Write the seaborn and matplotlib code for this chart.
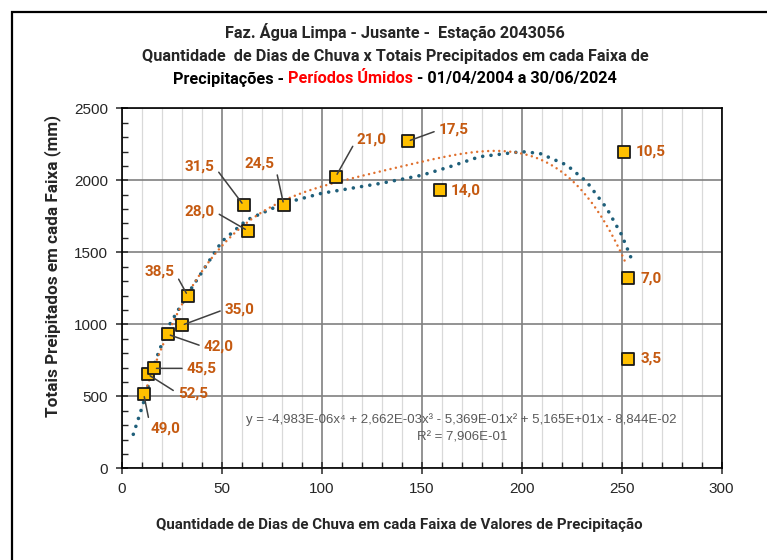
import numpy as np
import pandas as pd
import matplotlib
matplotlib.use("Agg")
import matplotlib.pyplot as plt
import seaborn as sns
from matplotlib.ticker import MultipleLocator
from matplotlib.patches import Rectangle

# Dados (dias de chuva x totais precipitados por faixa)
dias = [11, 13, 16, 23, 30, 33, 61, 63, 81, 107, 143, 159, 251, 253, 253]
totais = [516, 653, 694, 931, 993, 1199, 1826, 1650, 1831, 2025, 2271, 1936, 2199, 1324, 761]
faixas = ["49,0", "52,5", "45,5", "42,0", "35,0", "38,5", "31,5", "28,0",
          "24,5", "21,0", "17,5", "14,0", "10,5", "7,0", "3,5"]

# segunda linha de tendencia (azul), lida ponto a ponto no grafico
tend_x = [5.8, 10.8, 16.7, 23.3, 33, 50, 62.5, 81, 100, 130, 150, 164, 179,
          200, 209, 222.5, 232.5, 242.5, 250, 255.8]
tend_y = [236, 451, 740, 983, 1210, 1574, 1724, 1840, 1910, 1980, 2035, 2094, 2164,
          2199, 2187, 2106, 1990, 1806, 1620, 1424]

equacao = "y = -4,983E-06x⁴ + 2,662E-03x³ - 5,369E-01x² + 5,165E+01x - 8,844E-02"
r2 = "R² = 7,906E-01"

df = pd.DataFrame({"dias": dias, "totais": totais, "faixa": faixas})

# posicao dos rotulos (centro do texto, em unidades dos eixos) e se tem linha de chamada
rotulos_pos = [(22, 273), (35.5, 521), (40, 694), (48.5, 844), (59, 1104), (19, 1363),
               (39, 2094), (39, 1782), (69, 2118), (125, 2285), (166, 2349),
               (172, 1928), (264.5, 2197), (264.5, 1319), (264.5, 761)]
com_linha = [True] * 11 + [False] * 4

sns.set_style("white")
plt.rcParams["font.family"] = ["Liberation Sans", "DejaVu Sans"]
titulo_fonte = ["Roboto", "DejaVu Sans"]

fig = plt.figure(figsize=(7.67, 5.6), dpi=100)
ax = fig.add_axes([121.7 / 767, 1 - 468.3 / 560, 600 / 767, 360 / 560])

ax.set_xlim(0, 300)
ax.set_ylim(0, 2500)
ax.xaxis.set_major_locator(MultipleLocator(50))
ax.xaxis.set_minor_locator(MultipleLocator(10))
ax.yaxis.set_major_locator(MultipleLocator(500))
ax.yaxis.set_minor_locator(MultipleLocator(100))
ax.grid(which="minor", axis="x", color="#D9D9D9", lw=0.9)
ax.grid(which="major", axis="both", color="#808080", lw=1.2)
ax.set_axisbelow(True)
for s in ax.spines.values():
    s.set_color("black")
    s.set_linewidth(1.2)
ax.tick_params(which="major", direction="inout", length=8, width=1.1, labelsize=11, pad=6)
ax.tick_params(which="minor", direction="in", length=4, width=1.0)
ax.tick_params(axis="y", which="both", left=True)
ax.tick_params(axis="x", which="both", bottom=True)

# tendencia azul (pontos lidos)
sns.lineplot(x=tend_x, y=tend_y, ax=ax, color="#1F5F7A", lw=2.6,
             dashes=False, zorder=3, sort=False)
ax.lines[-1].set_dashes([0.01, 2.3])
ax.lines[-1].set_dash_capstyle("round")

# tendencia polinomial de ordem 4 (laranja, equacao mostrada)
c4 = np.polyfit(df["dias"], df["totais"], 4)
xs4 = np.linspace(min(dias), max(dias) - 0.5, 300)
sns.lineplot(x=xs4, y=np.polyval(c4, xs4), ax=ax, color="#E0702E", lw=1.8,
             dashes=False, zorder=3)
ax.lines[-1].set_dashes([0.01, 2.2])
ax.lines[-1].set_dash_capstyle("round")

sns.scatterplot(data=df, x="dias", y="totais", ax=ax, marker="s", s=85,
                color="#FFC000", edgecolor="#1a1a1a", linewidth=1.3, zorder=4)

for (x, y, lab), (tx, ty), ln in zip(zip(dias, totais, faixas), rotulos_pos, com_linha):
    if ln:
        rx = 0 if tx > x else 1
        ax.annotate(lab, xy=(x, y), xytext=(tx, ty), ha="center", va="center",
                    fontsize=11, fontweight="bold", color="#C55A11",
                    family=titulo_fonte, zorder=5,
                    arrowprops=dict(arrowstyle="-", color="#404040", lw=1.1,
                                    shrinkA=1, shrinkB=2, relpos=(rx, 0.5)))
    else:
        ax.text(tx, ty, lab, ha="center", va="center", fontsize=11,
                fontweight="bold", color="#C55A11", family=titulo_fonte, zorder=5)

ax.text(170, 335, equacao, ha="center", va="center", fontsize=9.5, color="#595959")
ax.text(170, 214, r2, ha="center", va="center", fontsize=9.5, color="#595959")

ax.set_xlabel("")
ax.set_ylabel("")
fig.text(399 / 767, 1 - 525 / 560,
         "Quantidade de Dias de Chuva em cada Faixa de Valores de Precipitação",
         ha="center", va="center", fontsize=10.9, fontweight="bold", family=titulo_fonte)
fig.text(53 / 767, 1 - 266 / 560, "Totais Preipitados em cada Faixa (mm)",
         ha="center", va="center", rotation=90, fontsize=12.3, fontweight="bold",
         family=titulo_fonte)

# titulo em tres linhas, a ultima com trecho em vermelho
cx = 395 / 767
fig.text(cx, 1 - 32 / 560, "Faz. Água Limpa - Jusante -  Estação 2043056", ha="center",
         va="center", fontsize=11.7, fontweight="bold", family=titulo_fonte)
fig.text(cx, 1 - 56 / 560, "Quantidade  de Dias de Chuva x Totais Precipitados em cada Faixa de",
         ha="center", va="center", fontsize=11.7, fontweight="bold", family=titulo_fonte)
partes = [("Precipitações - ", "black"), ("Períodos Úmidos", "#FF0000"),
          (" - 01/04/2004 a 30/06/2024", "black")]
rend = fig.canvas.get_renderer()
objs = []
for txt, cor in partes:
    t = fig.text(0, 1 - 79 / 560, txt, ha="left", va="center", fontsize=11.7,
                 fontweight="bold", color=cor, family=titulo_fonte)
    objs.append(t)
larg = [t.get_window_extent(rend).width / fig.bbox.width for t in objs]
x0 = cx - sum(larg) / 2
for t, w in zip(objs, larg):
    t.set_x(x0)
    x0 += w

fig.add_artist(Rectangle((12 / 767, -0.1), 1.2, 1 - 12 / 560 + 0.1,
                         transform=fig.transFigure, fill=False, ec="black", lw=1.6))

fig.savefig("out.png", dpi=100)
